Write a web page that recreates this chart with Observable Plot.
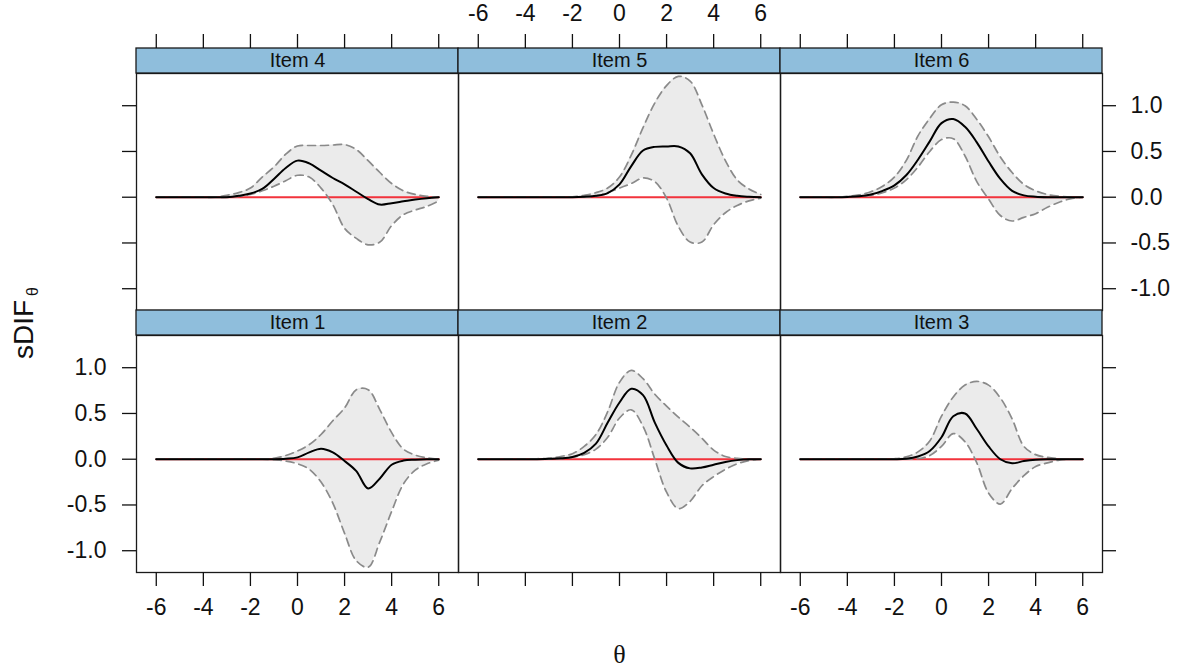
<!DOCTYPE html>
<html>
<head>
<meta charset="utf-8">
<script src="https://cdn.jsdelivr.net/npm/d3@7"></script>
<script src="https://cdn.jsdelivr.net/npm/@observablehq/plot@0.6"></script>
<style>
  html, body { margin: 0; padding: 0; background: #fff; }
  #chart { width: 1181px; height: 671px; }
</style>
</head>
<body>
<div id="chart"></div>
<script>
// ---- data ----
const theta = [-6, -5.5, -5, -4.5, -4, -3.5, -3, -2.5, -2, -1.5, -1, -0.5, 0, 0.5, 1, 1.5, 2, 2.5, 3, 3.5, 4, 4.5, 5, 5.5, 6];
const items = ["Item 1", "Item 2", "Item 3", "Item 4", "Item 5", "Item 6"];

const est1 = [0, 0, 0, 0, 0, 0, 0, 0, 0, 0, 0, 0.005, 0.02, 0.075, 0.115, 0.075, -0.02, -0.13, -0.32, -0.21, -0.06, -0.015, -0.005, 0, 0];
const lo1  = [0, 0, 0, 0, 0, 0, 0, 0, 0, 0, -0.005, -0.02, -0.05, -0.11, -0.25, -0.48, -0.81, -1.11, -1.18, -0.90, -0.57, -0.27, -0.12, -0.05, -0.01];
const hi1  = [0, 0, 0, 0, 0, 0, 0, 0, 0, 0, 0.01, 0.04, 0.09, 0.16, 0.27, 0.42, 0.56, 0.76, 0.76, 0.54, 0.29, 0.11, 0.045, 0.015, 0];

const est2 = [0, 0, 0, 0, 0, 0, 0.004, 0.01, 0.025, 0.07, 0.17, 0.40, 0.62, 0.77, 0.70, 0.40, 0.15, -0.04, -0.10, -0.09, -0.06, -0.03, -0.01, 0, 0];
const lo2  = [0, 0, 0, 0, 0, 0, 0, 0.005, 0.02, 0.05, 0.11, 0.24, 0.45, 0.54, 0.36, 0.0, -0.36, -0.54, -0.46, -0.29, -0.19, -0.11, -0.05, -0.015, 0];
const hi2  = [0, 0, 0, 0, 0, 0.005, 0.01, 0.03, 0.06, 0.14, 0.27, 0.52, 0.84, 0.97, 0.88, 0.71, 0.58, 0.46, 0.35, 0.23, 0.10, 0.03, 0.01, 0, 0];

const est3 = [0, 0, 0, 0, 0, 0, 0, 0, 0, 0.005, 0.03, 0.09, 0.24, 0.47, 0.50, 0.33, 0.14, 0.0, -0.045, -0.02, -0.005, 0, 0, 0, 0];
const lo3  = [0, 0, 0, 0, 0, 0, 0, 0, 0, 0, 0.005, 0.04, 0.14, 0.28, 0.19, -0.04, -0.37, -0.49, -0.32, -0.18, -0.08, -0.04, -0.01, 0, 0];
const hi3  = [0, 0, 0, 0, 0, 0, 0, 0, 0.005, 0.025, 0.08, 0.20, 0.47, 0.68, 0.81, 0.85, 0.81, 0.67, 0.44, 0.14, 0.05, 0.02, 0.005, 0, 0];

const est4 = [0, 0, 0, 0, 0, 0, 0, 0.015, 0.04, 0.09, 0.20, 0.32, 0.40, 0.37, 0.29, 0.21, 0.14, 0.06, -0.02, -0.08, -0.065, -0.045, -0.025, -0.01, 0];
const lo4  = [0, 0, 0, 0, 0, 0, 0, 0.01, 0.03, 0.07, 0.12, 0.18, 0.24, 0.22, 0.10, -0.08, -0.34, -0.45, -0.52, -0.49, -0.31, -0.19, -0.14, -0.10, -0.04];
const hi4  = [0, 0, 0, 0, 0, 0, 0.02, 0.05, 0.10, 0.22, 0.33, 0.47, 0.56, 0.565, 0.565, 0.57, 0.575, 0.52, 0.40, 0.27, 0.15, 0.07, 0.03, 0.01, 0];

const est5 = [0, 0, 0, 0, 0, 0, 0, 0, 0, 0.005, 0.015, 0.045, 0.14, 0.34, 0.51, 0.55, 0.555, 0.555, 0.48, 0.25, 0.10, 0.04, 0.015, 0.005, 0];
const lo5  = [0, 0, 0, 0, 0, 0, 0, 0, 0, 0, 0.01, 0.05, 0.10, 0.15, 0.21, 0.17, -0.01, -0.32, -0.49, -0.49, -0.30, -0.17, -0.09, -0.04, -0.01];
const hi5  = [0, 0, 0, 0, 0, 0, 0, 0, 0.005, 0.02, 0.05, 0.10, 0.22, 0.46, 0.76, 1.03, 1.22, 1.32, 1.27, 1.01, 0.69, 0.40, 0.19, 0.09, 0.03];

const est6 = [0, 0, 0, 0, 0.003, 0.01, 0.03, 0.07, 0.13, 0.24, 0.41, 0.61, 0.81, 0.855, 0.77, 0.60, 0.39, 0.20, 0.07, 0.02, 0.005, 0, 0, 0, 0];
const lo6  = [0, 0, 0, 0, 0.003, 0.01, 0.02, 0.05, 0.10, 0.19, 0.33, 0.50, 0.63, 0.64, 0.45, 0.17, -0.02, -0.20, -0.26, -0.22, -0.18, -0.11, -0.055, -0.015, 0];
const hi6  = [0, 0, 0, 0, 0.01, 0.025, 0.06, 0.12, 0.22, 0.40, 0.67, 0.86, 1.01, 1.04, 1.0, 0.85, 0.66, 0.44, 0.27, 0.14, 0.07, 0.03, 0.01, 0, 0];

const xTicks = [-6, -4, -2, 0, 2, 4, 6];
const xTickLabels = ["-6", "-4", "-2", "0", "2", "4", "6"];
const yTicks = [-1, -0.5, 0, 0.5, 1];
const yTickLabels = ["-1.0", "-0.5", "0.0", "0.5", "1.0"];
const referenceLevel = 0;
const xTitle = "θ";
const yTitle = "sDIF";
const yTitleSub = "θ";

// ---- build tables ----
const estAll = [est1, est2, est3, est4, est5, est6];
const loAll = [lo1, lo2, lo3, lo4, lo5, lo6];
const hiAll = [hi1, hi2, hi3, hi4, hi5, hi6];

// lattice layout: items 1-3 bottom row, 4-6 top row
const colOf = i => i % 3;
const rowOf = i => (i < 3 ? 1 : 0);

const rows = [];
items.forEach((name, i) => {
  theta.forEach((t, j) => {
    rows.push({item: name, col: colOf(i), row: rowOf(i), x: t, est: estAll[i][j], lo: loAll[i][j], hi: hiAll[i][j]});
  });
});
const panels = items.map((name, i) => ({label: name, col: colOf(i), row: rowOf(i)}));

const cross = (ps, vals, labels) => ps.flatMap(p => vals.map((v, k) => ({col: p.col, row: p.row, v, t: labels[k]})));
const topRow = panels.filter(p => p.row === 0);
const botRow = panels.filter(p => p.row === 1);
const leftCol = panels.filter(p => p.col === 0);
const rightCol = panels.filter(p => p.col === 2);

const topTicks = cross(topRow, xTicks, xTickLabels);
const topLabels = cross(topRow.filter(p => p.col === 1), xTicks, xTickLabels);
const botTicks = cross(botRow, xTicks, xTickLabels);
const botLabels = cross(botRow.filter(p => p.col !== 1), xTicks, xTickLabels);
const leftTicks = cross(leftCol, yTicks, yTickLabels);
const leftLabels = cross(leftCol.filter(p => p.row === 1), yTicks, yTickLabels);
const rightTicks = cross(rightCol, yTicks, yTickLabels);
const rightLabels = cross(rightCol.filter(p => p.row === 0), yTicks, yTickLabels);

// ---- layout ----
const xDom = [-6.84, 6.84];
const yDom = [-1.238, 1.352];
const stripH = 25;
const tickLen = 14;
const tickFont = 23;
const curve = "catmull-rom";
const fc = {fx: "col", fy: "row"};

const chart = Plot.plot({
  width: 1181,
  height: 671,
  marginLeft: 135,
  marginRight: 79,
  marginTop: 73,
  marginBottom: 99,
  style: {fontFamily: "'Liberation Sans', Arial, Helvetica, sans-serif", background: "#fff", color: "#000"},
  x: {domain: xDom, axis: null},
  y: {domain: yDom, axis: null},
  fx: {domain: [0, 1, 2], padding: 0, axis: null},
  fy: {domain: [0, 1], paddingInner: 50 / 524, paddingOuter: 0, axis: null},
  marks: [
    Plot.areaY(rows, {...fc, z: "item", x: "x", y1: "lo", y2: "hi", fill: "#ebebeb", curve}),
    Plot.lineY(rows, {...fc, z: "item", x: "x", y: () => referenceLevel, stroke: "#f2333c", strokeWidth: 2}),
    Plot.lineY(rows, {...fc, z: "item", x: "x", y: "lo", stroke: "#8a8a8a", strokeWidth: 1.7, strokeDasharray: "8,5", curve}),
    Plot.lineY(rows, {...fc, z: "item", x: "x", y: "hi", stroke: "#8a8a8a", strokeWidth: 1.7, strokeDasharray: "8,5", curve}),
    Plot.lineY(rows, {...fc, z: "item", x: "x", y: "est", stroke: "#000", strokeWidth: 2, curve}),
    Plot.frame({stroke: "#1a1a1a", strokeWidth: 1.3}),
    // strips
    Plot.rect(panels, {...fc, y1: () => yDom[1], y2: () => yDom[1], insetTop: -stripH, fill: "#8fbedc", stroke: "#1a1a1a", strokeWidth: 1.3}),
    Plot.text(panels, {...fc, text: "label", frameAnchor: "top", lineAnchor: "middle", dy: -stripH / 2, fontSize: 20, fill: "#111"}),
    // ticks
    Plot.ruleX(topTicks, {...fc, x: "v", y1: () => yDom[1], y2: () => yDom[1], insetTop: -(stripH + tickLen), insetBottom: stripH, stroke: "#111", strokeWidth: 1.3}),
    Plot.ruleX(botTicks, {...fc, x: "v", y1: () => yDom[0], y2: () => yDom[0], insetTop: 0, insetBottom: -tickLen, stroke: "#111", strokeWidth: 1.3}),
    Plot.ruleY(leftTicks, {...fc, y: "v", x1: () => xDom[0], x2: () => xDom[0], insetLeft: -tickLen, insetRight: 0, stroke: "#111", strokeWidth: 1.3}),
    Plot.ruleY(rightTicks, {...fc, y: "v", x1: () => xDom[1], x2: () => xDom[1], insetLeft: 0, insetRight: -tickLen, stroke: "#111", strokeWidth: 1.3}),
    // tick labels
    Plot.text(topLabels, {...fc, x: "v", text: "t", frameAnchor: "top", lineAnchor: "middle", dy: -60, fontSize: tickFont, fill: "#111"}),
    Plot.text(botLabels, {...fc, x: "v", text: "t", frameAnchor: "bottom", lineAnchor: "middle", dy: 35, fontSize: tickFont, fill: "#111"}),
    Plot.text(leftLabels, {...fc, y: "v", text: "t", frameAnchor: "left", lineAnchor: "middle", dx: -30, textAnchor: "end", fontSize: tickFont, fill: "#111"}),
    Plot.text(rightLabels, {...fc, y: "v", text: "t", frameAnchor: "right", lineAnchor: "middle", dx: 28, textAnchor: "start", fontSize: tickFont, fill: "#111"}),
    // axis titles
    Plot.text([xTitle], {fx: () => 1, fy: () => 1, text: d => d, frameAnchor: "bottom", lineAnchor: "middle", dy: 82, fontSize: 26, fontFamily: "'Liberation Serif', 'DejaVu Serif', serif", fill: "#111"}),
    Plot.text([yTitle], {fx: () => 0, fy: () => 0, text: d => d, frameAnchor: "bottom-left", lineAnchor: "middle", dx: -112, dy: 19, rotate: -90, textAnchor: "middle", fontSize: 28, fill: "#111"}),
    Plot.text([yTitleSub], {fx: () => 0, fy: () => 0, text: d => d, frameAnchor: "bottom-left", lineAnchor: "middle", dx: -104, dy: -19, rotate: -90, textAnchor: "middle", fontSize: 16, fill: "#111"})
  ]
});
document.getElementById("chart").appendChild(chart);
</script>
</body>
</html>
